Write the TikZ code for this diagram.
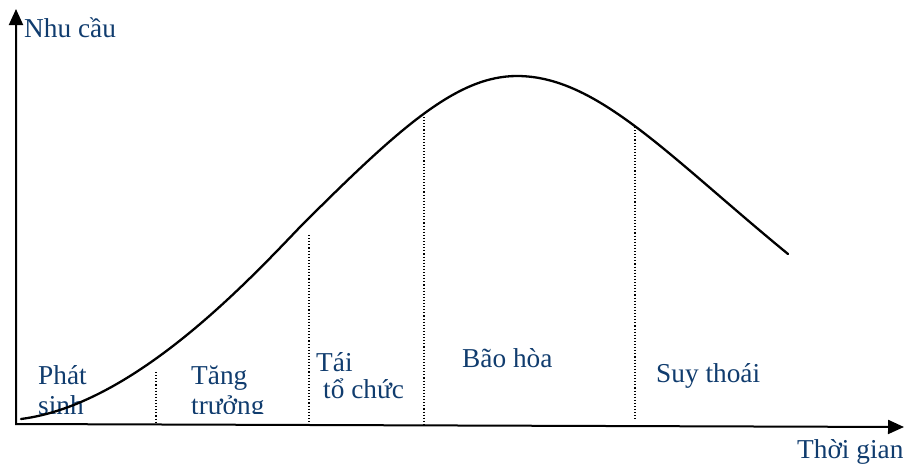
\documentclass[tikz,border=0pt]{standalone}
\usepackage{fontspec}
\setmainfont{Liberation Serif}
\usetikzlibrary{arrows.meta}
\definecolor{txt}{RGB}{16,60,110}
\begin{document}
\begin{tikzpicture}[x=1pt,y=-1pt,
  lbl/.style={anchor=base west, inner sep=0pt, text=txt, font=\fontsize{27.3}{30}\selectfont},
  axis/.style={line width=2pt, line join=miter, {Triangle[length=16pt,width=14pt]}-{Triangle[length=16pt,width=14pt]}},
  sep/.style={line width=1.1pt, dash pattern=on 1.1pt off 2pt},
  curve/.style={line width=2.3pt, line cap=round}]
\useasboundingbox (0,0) rectangle (904,466);
% axes
\coordinate (O) at (16,424);
\coordinate (Ytip) at (16,9);
\coordinate (Xtip) at (904,427);
\draw[axis] (Ytip) -- (O) -- (Xtip);
% separators
\coordinate (s1t) at (156,372); \coordinate (s1b) at (156,423);
\coordinate (s2t) at (309,235); \coordinate (s2b) at (309,424);
\coordinate (s3t) at (424,117); \coordinate (s3b) at (424,424);
\coordinate (s4t) at (635,127); \coordinate (s4b) at (635,419);
\draw[sep] (s1t) -- (s1b);
\draw[sep] (s2t) -- (s2b);
\draw[sep] (s3t) -- (s3b);
\draw[sep] (s4t) -- (s4b);
% labels
\node[lbl] (ny) at (24,37) {Nhu cầu};
\node[lbl] (tx) at (797,458) {Thời gian};
\node[lbl] (p1) at (38,384) {Phát};
\node[lbl] (t1) at (191,384) {Tăng};
\begin{scope}
\clip (0,0) rectangle (904,413);
\node[lbl] (p2) at (38,414) {sinh};
\node[lbl] (t2) at (191,414) {trưởng};
\end{scope}
\node[lbl] (r1) at (316,371) {Tái};
\node[lbl] (r2) at (323,398) {tổ chức};
\node[lbl] (bh) at (462,367) {Bão hòa};
\node[lbl] (st) at (656,382) {Suy thoái};
% curve
\coordinate (c0) at (21,419);
\coordinate (c1) at (300,227);
\coordinate (c2) at (517,76);
\coordinate (c3) at (788,254);
\draw[curve] (c0) .. controls (130,405) and (240,290) .. (c1)
  .. controls (400,127) and (457,76) .. (c2)
  .. controls (597,76) and (668,155.6) .. (c3);
\end{tikzpicture}
\end{document}
